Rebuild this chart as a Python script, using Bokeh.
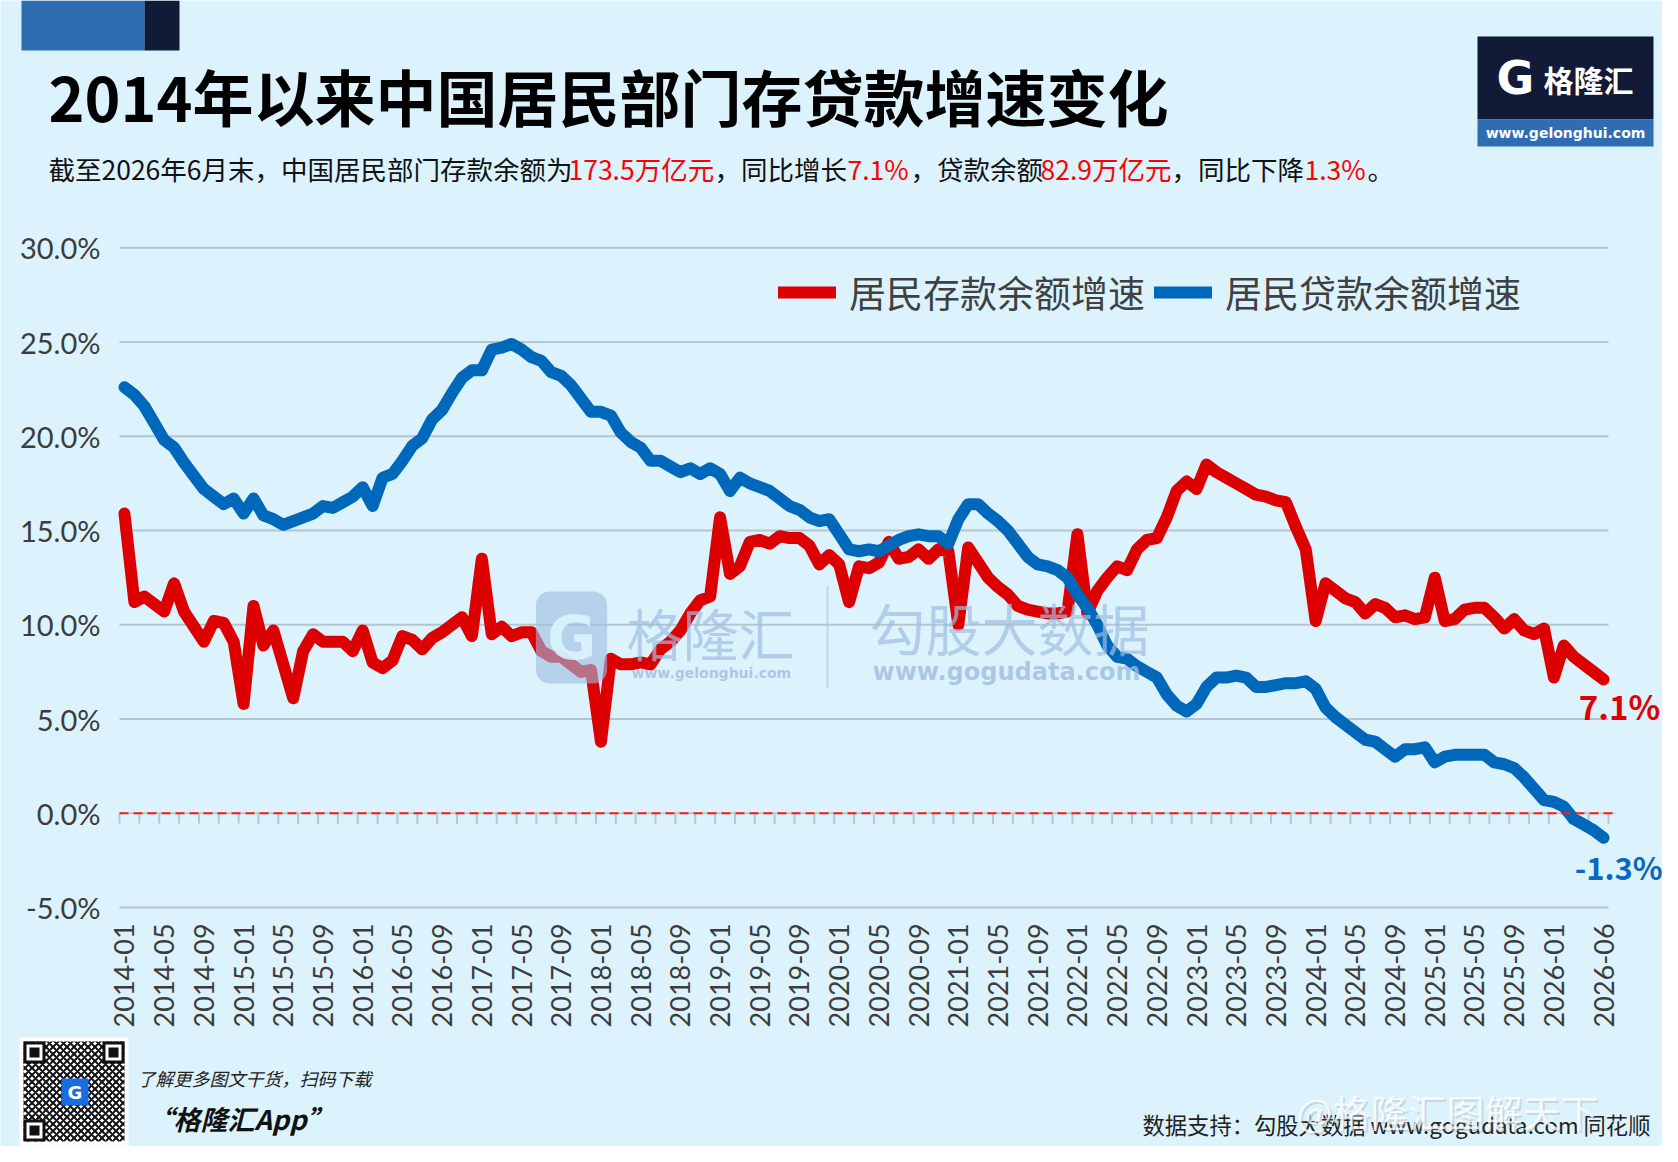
from math import pi
from bokeh.plotting import figure
from bokeh.models import (Range1d, FixedTicker, PrintfTickFormatter, Label, BoxAnnotation,
                          Legend, LegendItem, ColumnDataSource)
from bokeh.embed import file_html
from bokeh.resources import INLINE

# ---------------- data ----------------
months = [f"{yr}-{mo:02d}" for yr in range(2014, 2027) for mo in range(1, 13)][:150]

deposit_growth = [
    15.9, 11.2, 11.5, 11.1, 10.7, 12.2, 10.7, 9.9, 9.1, 10.2, 10.1, 9.1,
    5.8, 11.0, 8.9, 9.7, 7.9, 6.1, 8.6, 9.5, 9.1, 9.1, 9.1, 8.6,
    9.7, 8.0, 7.7, 8.1, 9.4, 9.2, 8.7, 9.3, 9.6, 10.0, 10.4, 9.4,
    13.5, 9.5, 9.9, 9.4, 9.6, 9.6, 8.6, 8.3, 8.3, 7.9, 7.5, 7.6,
    3.8, 8.2, 7.9, 7.9, 8.0, 7.9, 8.7, 9.1, 9.7, 10.6, 11.3, 11.5,
    15.7, 12.7, 13.1, 14.4, 14.5, 14.3, 14.7, 14.6, 14.6, 14.2, 13.2, 13.7,
    13.2, 11.2, 13.1, 13.0, 13.3, 14.4, 13.5, 13.6, 14.0, 13.5, 14.0, 13.9,
    10.0, 14.1, 13.3, 12.5, 12.0, 11.6, 11.0, 10.8, 10.7, 10.6, 10.6, 10.7,
    14.8, 10.6, 11.8, 12.5, 13.1, 12.9, 14.0, 14.5, 14.6, 15.7, 17.1, 17.6,
    17.2, 18.5, 18.1, 17.8, 17.5, 17.2, 16.9, 16.8, 16.6, 16.5, 15.2, 14.0,
    10.2, 12.2, 11.8, 11.4, 11.2, 10.6, 11.1, 10.9, 10.4, 10.5, 10.3, 10.4,
    12.5, 10.2, 10.3, 10.8, 10.9, 10.9, 10.4, 9.8, 10.3, 9.7, 9.5, 9.8,
    7.2, 8.9, 8.3, 7.9, 7.5, 7.1,
]

loan_growth = [
    22.6, 22.2, 21.6, 20.7, 19.8, 19.4, 18.6, 17.9, 17.2, 16.8, 16.4, 16.7,
    15.9, 16.7, 15.8, 15.6, 15.3, 15.5, 15.7, 15.9, 16.3, 16.2, 16.5, 16.8,
    17.3, 16.3, 17.8, 18.0, 18.7, 19.5, 19.9, 20.9, 21.4, 22.3, 23.1, 23.5,
    23.5, 24.6, 24.7, 24.9, 24.6, 24.2, 24.0, 23.4, 23.2, 22.7, 22.0, 21.3,
    21.3, 21.1, 20.2, 19.7, 19.4, 18.7, 18.7, 18.4, 18.1, 18.3, 18.0, 18.3,
    18.0, 17.1, 17.8, 17.5, 17.3, 17.1, 16.7, 16.3, 16.1, 15.7, 15.5, 15.6,
    14.8, 14.0, 13.9, 14.0, 13.9, 14.2, 14.5, 14.7, 14.8, 14.7, 14.7, 14.3,
    15.6, 16.4, 16.4, 15.9, 15.5, 15.0, 14.3, 13.6, 13.2, 13.1, 12.9, 12.5,
    11.6, 10.9, 10.0, 8.9, 8.3, 8.2, 7.8, 7.5, 7.2, 6.3, 5.7, 5.4,
    5.8, 6.7, 7.2, 7.2, 7.3, 7.2, 6.7, 6.7, 6.8, 6.9, 6.9, 7.0,
    6.6, 5.6, 5.1, 4.7, 4.3, 3.9, 3.8, 3.4, 3.0, 3.4, 3.4, 3.5,
    2.7, 3.0, 3.1, 3.1, 3.1, 3.1, 2.7, 2.6, 2.4, 1.9, 1.3, 0.7,
    0.6, 0.35, -0.3, -0.6, -0.9, -1.3,
]

x_tick_labels = [
    "2014-01", "2014-05", "2014-09", "2015-01", "2015-05", "2015-09",
    "2016-01", "2016-05", "2016-09", "2017-01", "2017-05", "2017-09",
    "2018-01", "2018-05", "2018-09", "2019-01", "2019-05", "2019-09",
    "2020-01", "2020-05", "2020-09", "2021-01", "2021-05", "2021-09",
    "2022-01", "2022-05", "2022-09", "2023-01", "2023-05", "2023-09",
    "2024-01", "2024-05", "2024-09", "2025-01", "2025-05", "2025-09",
    "2026-01", "2026-06",
]
y_tick_values = [-5, 0, 5, 10, 15, 20, 25, 30]
series_names = ["居民存款余额增速", "居民贷款余额增速"]
end_labels = ["7.1%", "-1.3%"]

# ---------------- style / geometry ----------------
BG = "#dcf3fd"
RED = "#dd0000"
BLUE = "#0068bb"
CJK = "Noto Sans CJK SC"
W, H = 1662, 1146
N = len(months)
# plot area in page pixels: category band -0.5..149.5 spans x 119..1608,
# value axis 30 .. -5 spans y 247.3 .. 907
PL, PR = 119, 1608
PT, PB = 247.3, 907.0
XPU = (PR - PL) / N
YPU = (PB - PT) / 35.0
x_start = -0.5 - PL / XPU
x_end = -0.5 + (W - PL) / XPU
y_top = 30 + PT / YPU
y_bot = -5 - (H - PB) / YPU

p = figure(width=W, height=H, output_backend="svg", toolbar_location=None,
           x_range=Range1d(x_start, x_end), y_range=Range1d(y_bot, y_top),
           min_border=0, background_fill_color=BG, border_fill_color=BG,
           outline_line_color=None)
p.extra_x_ranges = {"px": Range1d(0, W)}
p.extra_y_ranges = {"py": Range1d(H, 0)}

xt = [months.index(t) for t in x_tick_labels]
p.xaxis.ticker = FixedTicker(ticks=xt)
p.xaxis.major_label_overrides = {i: t for i, t in zip(xt, x_tick_labels)}
p.xaxis.major_label_orientation = pi / 2
p.xaxis.fixed_location = -5.1
p.xaxis.major_label_standoff = 14
p.xaxis.major_label_text_font_size = "27px"
p.yaxis.ticker = FixedTicker(ticks=y_tick_values)
p.yaxis.formatter = PrintfTickFormatter(format="%.1f%%")
p.yaxis.fixed_location = -0.5
p.yaxis.major_label_standoff = 19
p.yaxis.major_label_text_font_size = "29px"
for ax in (p.xaxis, p.yaxis):
    ax.axis_line_color = None
    ax.major_tick_line_color = None
    ax.minor_tick_line_color = None
    ax.major_tick_out = 0
    ax.major_tick_in = 0
    ax.major_label_text_font = "Lato"
    ax.major_label_text_color = "#3c3c3c"
p.grid.visible = False

# horizontal gridlines over the category span
p.segment(x0=[-0.5] * len(y_tick_values), y0=y_tick_values,
          x1=[N - 0.5] * len(y_tick_values), y1=y_tick_values,
          line_color="#b5c6d0", line_width=2)
# category tick marks and zero line
tick_pos = [k - 0.5 for k in range(0, N + 1, 2)]
p.segment(x0=tick_pos, y0=[0] * len(tick_pos), x1=tick_pos, y1=[-0.55] * len(tick_pos),
          line_color="#b9c3ca", line_width=2)
p.segment(x0=[-0.5], y0=[0], x1=[N + 0.2], y1=[0], line_color="#c2cbd2", line_width=1.5)

src = ColumnDataSource(dict(x=list(range(N)), dep=deposit_growth, loan=loan_growth))
r_dep = p.line("x", "dep", source=src, line_color=RED, line_width=12,
               line_join="round", line_cap="round")
r_loan = p.line("x", "loan", source=src, line_color=BLUE, line_width=12,
                line_join="round", line_cap="round")
p.segment(x0=[-0.5], y0=[0], x1=[N + 0.2], y1=[0], line_color="#ff1a1a", line_width=2,
          line_dash="9 5")

legend = Legend(items=[LegendItem(label=series_names[0], renderers=[r_dep]),
                       LegendItem(label=series_names[1], renderers=[r_loan])],
                orientation="horizontal", location=(778, 827),
                background_fill_alpha=0, border_line_color=None, padding=0, margin=0,
                spacing=9, glyph_width=58, glyph_height=36, label_standoff=13,
                label_text_font=CJK, label_text_font_size="37px",
                label_text_color="#404040")
p.add_layout(legend)

p.add_layout(Label(x=N - 1 - 2.5, y=deposit_growth[-1] - 1.40, text=end_labels[0],
                   text_font=CJK, text_font_size="33px", text_font_style="bold",
                   text_color="#e00000", text_baseline="middle", text_align="left"))
p.add_layout(Label(x=N - 1 - 2.9, y=loan_growth[-1] - 1.50, text=end_labels[1],
                   text_font=CJK, text_font_size="31px", text_font_style="bold",
                   text_color="#0a68c0", text_baseline="middle", text_align="left"))


# ---------- decorations in page pixels (from the top-left) ----------
def box(l, r, t, b, color, alpha=1.0, **kw):
    p.add_layout(BoxAnnotation(left=l, right=r, top=t, bottom=b, x_range_name="px",
                               y_range_name="py", fill_color=color, fill_alpha=alpha,
                               line_color=None, **kw))


def lab(x, y, text, size, color, font=CJK, style="normal", align="left", alpha=1.0, **kw):
    p.add_layout(Label(x=x, y=y, x_range_name="px", y_range_name="py", text=text,
                       text_font=font, text_font_size=f"{size}px", text_font_style=style,
                       text_color=color, text_alpha=alpha, text_align=align,
                       text_baseline="middle", **kw))


# centre watermark
WM = "#9dbde0"
lab(571, 637, "G", 60, BG, font="DejaVu Sans", style="bold", align="center", alpha=0.9,
    background_fill_color=WM, background_fill_alpha=0.6, padding=11, border_radius=14)
lab(626, 631, "格隆汇", 56, WM, alpha=0.7)
lab(631, 672, "www.gelonghui.com", 14, WM, font="DejaVu Sans", style="bold", alpha=0.8)
box(826, 828, 586, 687, WM, alpha=0.5)
lab(869, 626, "勾股大数据", 56, WM, alpha=0.7)
lab(872, 671, "www.gogudata.com", 24, WM, font="DejaVu Sans", style="bold", alpha=0.8)

# header
box(21, 144, 0, 50, "#2e6db4")
box(144, 179, 0, 50, "#111a36")
lab(48, 95, "2014年以来中国居民部门存贷款增速变化", 61, "#000000", style="bold")
sub = [("截至2026年6月末，中国居民部门存款余额为", "#111111", 48),
       ("173.5万亿元", "#ff0000", 568),
       ("，同比增长", "#111111", 714),
       ("7.1%", "#ff0000", 847),
       ("，贷款余额", "#111111", 910),
       ("82.9万亿元", "#ff0000", 1040),
       ("，同比下降", "#111111", 1171),
       ("1.3%", "#ff0000", 1304),
       ("。", "#111111", 1367)]
for t, c, x in sub:
    lab(x, 168, t, 26.5, c)
box(1477, 1653, 36, 119, "#111a36")
box(1477, 1653, 119, 146, "#2e6db4")
lab(1515, 77, "G", 46, "#ffffff", font="DejaVu Sans", style="bold", align="center")
lab(1543, 78, "格隆汇", 30, "#ffffff", style="bold")
lab(1565, 132, "www.gelonghui.com", 14, "#ffffff", font="DejaVu Sans", style="bold",
    align="center")

# footer
box(19, 128, 1037, 1145, "#ffffff")
box(23, 124, 1041, 1141, "#ffffff", hatch_pattern="x", hatch_color="#111111",
    hatch_scale=7, hatch_weight=2)
for qx, qy in [(23, 1041), (102, 1041), (23, 1119)]:
    box(qx, qx + 22, qy, qy + 22, "#111111")
    box(qx + 3, qx + 19, qy + 3, qy + 19, "#ffffff")
    box(qx + 6, qx + 16, qy + 6, qy + 16, "#111111")
box(61, 88, 1078, 1105, "#1a6de0")
lab(74.5, 1092, "G", 18, "#ffffff", font="DejaVu Sans", style="bold", align="center")
lab(137, 1077, "了解更多图文干货，扫码下载", 18, "#222222", style="italic")
lab(146, 1118, "“格隆汇App”", 27, "#111111", style="bold italic")
lab(1142, 1123, "数据支持：勾股大数据 www.gogudata.com 同花顺", 22.3, "#222222")
lab(1298, 1112, "@格隆汇图解天下", 38, "#7f8a90", alpha=0.25)
lab(1296, 1110, "@格隆汇图解天下", 38, "#ffffff", alpha=0.8)

open("out.html", "w").write(file_html(p, INLINE))
